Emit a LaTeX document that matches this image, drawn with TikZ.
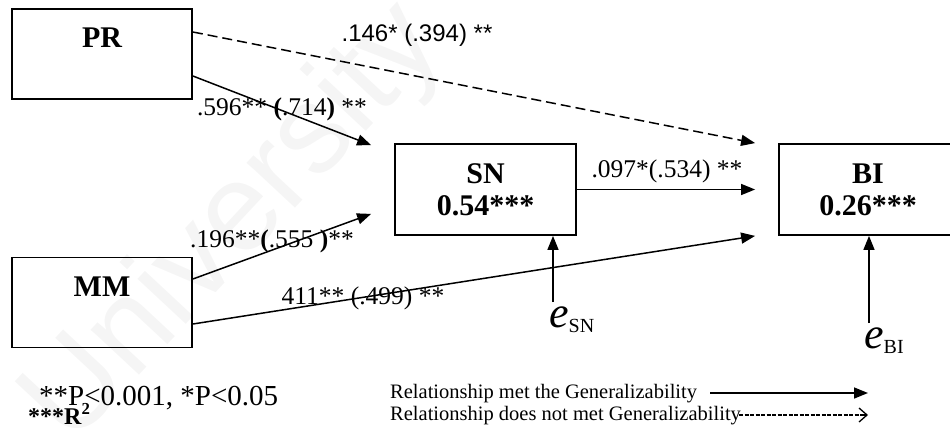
\documentclass[tikz,border=0pt]{standalone}
\usepackage{fontspec}
\setmainfont{Liberation Serif}
\newfontfamily\arialfont{Liberation Sans}
\usetikzlibrary{arrows.meta}

\tikzset{
  varbox/.style={draw, line width=1.8pt, minimum width=180pt, minimum height=90pt,
    inner sep=0pt, align=center, font=\fontsize{30}{32}\selectfont\bfseries},
  path/.style={line width=1.5pt, -{Triangle[length=14pt,width=11pt]}},
  weakpath/.style={path, dash pattern=on 10pt off 5pt},
  coef/.style={inner sep=0pt, anchor=base, font=\fontsize{25.5}{25.5}\selectfont},
  legendtxt/.style={inner sep=0pt, anchor=base west, font=\fontsize{20.5}{20.5}\selectfont},
  errlabel/.style={inner sep=0pt, anchor=base west},
}

\newcommand{\errterm}[1]{{\fontsize{44}{44}\selectfont\itshape e}{\fontsize{20}{20}\selectfont\raisebox{-5pt}{#1}}}

\begin{document}
\begin{tikzpicture}[x=1pt, y=-1pt]
\useasboundingbox (0,0) rectangle (950,442);

% faint background watermark
\node[rotate=47, text=black!4, inner sep=0pt,
      font=\arialfont\fontsize{125}{125}\selectfont] (wm) at (235,225) {University};

% variables
\node[varbox] (PR) at (102,54)    {PR\\\phantom{0}};
\node[varbox] (MM) at (102,302.5) {MM\\\phantom{0}};
\node[varbox, minimum width=181pt, minimum height=91pt] (SN) at (485.5,189.5) {SN\\0.54***};
\node[varbox, minimum width=178pt, minimum height=91pt] (BI) at (868,189.5)  {BI\\0.26***};

% free arrow ends in front of the target boxes
\coordinate (toSNtop) at ([xshift=-23pt, yshift=-2pt]SN.north west);
\coordinate (toSNbot) at ([xshift=-23pt, yshift=22pt]SN.south west);
\coordinate (toBItop) at ([xshift=-23pt]BI.north west);
\coordinate (toBImid) at ([xshift=-23pt]BI.west);
\coordinate (toBIbot) at ([xshift=-23pt]BI.south west);

% structural paths
\draw[weakpath] ([yshift=22pt]PR.east) -- (toBItop);
\draw[path] ([yshift=-22pt]PR.east) -- (toSNtop);
\draw[path] (SN.east) -- (toBImid);
\draw[path] ([yshift=23.5pt]MM.east) -- (toSNbot);
\draw[path] ([yshift=-21.5pt]MM.east) -- (toBIbot);

% path coefficients
\node[coef, font=\arialfont\fontsize{24}{24}\selectfont] (cPRBI) at (417,41) {.146* (.394) **};
\node[coef] (cPRSN) at (282,115) {.596** \textbf{(}.714\textbf{)} **};
\node[coef] (cMMSN) at (272,247) {.196**\textbf{(}.555 \textbf{)}**};
\node[coef] (cMMBI) at (363,304) {411** (.499) **};
\node[coef] (cSNBI) at (667,177) {.097*(.534) **};

% error terms
\node[errlabel] (eSN) at (549,327) {\errterm{SN}};
\node[errlabel] (eBI) at (864,348) {\errterm{BI}};
\coordinate (xSN) at (553,0);
\coordinate (xBI) at (869,0);
\draw[path] ([yshift=4pt]eSN.north -| xSN) -- (SN.south -| xSN);
\draw[path] ([yshift=4pt]eBI.north -| xBI) -- (BI.south -| xBI);

% significance notes
\node[inner sep=0pt, anchor=base west, font=\fontsize{29}{29}\selectfont] (sig) at (39,405) {**P<0.001, *P<0.05};
\node[inner sep=0pt, anchor=base west, font=\fontsize{24}{24}\selectfont\bfseries] (rsq) at (28,424) {***R\textsuperscript{2}};

% legend
\node[legendtxt] (lgmet) at (390,398) {Relationship met the Generalizability};
\node[legendtxt] (lgnot) at (390,420) {Relationship does not met Generalizability};
\coordinate (lgA0) at (710,393);
\coordinate (lgA1) at (868,393);
\coordinate (lgB0) at (739,415);
\coordinate (lgB1) at (868,415);
\draw[path] (lgA0) -- (lgA1);
\draw[line width=1.1pt, dash pattern=on 4pt off 1.5pt] (lgB0) -- ([xshift=-6pt]lgB1);
\draw[line width=1.3pt, -{Straight Barb[length=8pt,width=14pt]}] ([xshift=-8pt]lgB1) -- (lgB1);
\end{tikzpicture}
\end{document}
